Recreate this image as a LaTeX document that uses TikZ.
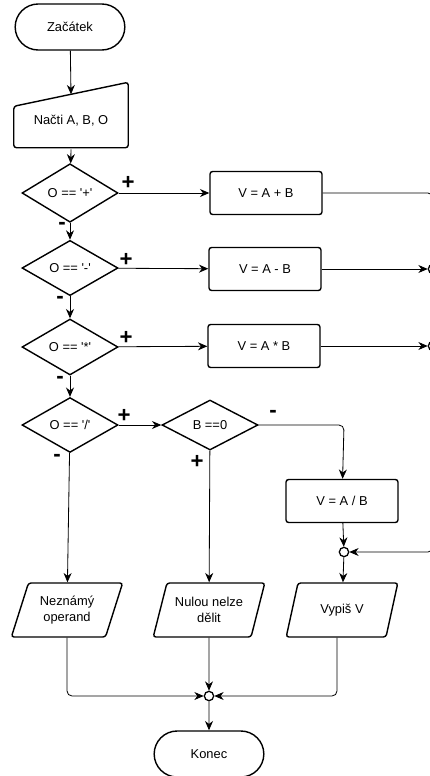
\documentclass[tikz,border=0pt]{standalone}
\usepackage{fontspec}
\setmainfont{Liberation Sans}
\usetikzlibrary{shapes.geometric,shapes.misc,arrows.meta}

\tikzset{
  base/.style={draw,line width=1.2pt,align=center,font=\fontsize{11}{13}\selectfont,inner sep=1pt},
  term/.style={base,rounded rectangle,minimum width=33.6mm,minimum height=13.8mm},
  process/.style={base,rectangle,rounded corners=0.8mm,minimum width=33.6mm,minimum height=12.9mm},
  decision/.style={base,diamond,minimum width=28.8mm,minimum height=15mm},
  io/.style={base,trapezium,trapezium left angle=67,trapezium right angle=113,trapezium stretches=true,rounded corners=0.8mm,minimum width=33.6mm,minimum height=16.2mm},
  junction/.style={draw,line width=1.1pt,circle,inner sep=0pt,minimum size=2.8mm},
  sign/.style={font=\fontsize{19}{19}\selectfont\bfseries,inner sep=0pt},
  flow/.style={-{Stealth[length=2.8mm,width=2.4mm,inset=0.9mm]},line width=0.7pt},
  line/.style={line width=0.7pt,rounded corners=1.5mm}
}

\begin{document}
\begin{tikzpicture}[x=0.3mm,y=-0.3mm]
\useasboundingbox (0,0) rectangle (429,776);

\node[term] (start) at (70,27) {Začátek};
\node[base,minimum width=33.9mm,minimum height=15.6mm,draw=none] (read) at (71,121) {Načti A, B, O};
\draw[line width=1.2pt,rounded corners=0.8mm] (read.south west) -- (read.south east)
  -- ([yshift=3.6mm]read.north east) -- ([yshift=-3.6mm]read.north west) -- cycle;

\node[decision] (plus) at (70,193) {O == \textquotesingle+\textquotesingle};
\node[decision] (minus) at (70,268) {O == \textquotesingle-\textquotesingle};
\node[decision] (times) at (70,347) {O == \textquotesingle*\textquotesingle};
\node[decision] (div) at (70,425) {O == \textquotesingle/\textquotesingle};
\node[decision] (zero) at (210,425) {B ==0};

\node[process] (sum) at (266,193) {V = A + B};
\node[process] (diff) at (265,269) {V = A - B};
\node[process] (prod) at (264,346) {V = A * B};
\node[process] (quot) at (342,501) {V = A / B};

\node[io] (unknown) at (67,610) {Neznámý\\operand};
\node[io] (nozero) at (209,610) {Nulou nelze\\dělit};
\node[io] (print) at (342,610) {Vypiš V};

\node[junction] (jright2) at (433,269) {};
\node[junction] (jright3) at (433,346) {};
\node[junction] (jprint) at (344,552) {};
\node[junction] (jend) at (209,696) {};

\node[term] (end) at (209,754) {Konec};

\coordinate (c1) at (433,193);
\coordinate (c2) at (433,552);
\coordinate (c3) at (344,425);
\coordinate (c4) at (67,696);
\coordinate (c5) at (337,696);

\draw[flow] (start) -- (read.north);
\draw[flow] ([yshift=-0.5mm]read.south) -- (plus);
\draw[flow] (plus) -- (sum);
\draw[flow] (plus) -- (minus);
\draw[flow] (minus) -- (diff);
\draw[flow] (minus) -- (times);
\draw[flow] (times) -- (prod);
\draw[flow] (times) -- (div);
\draw[flow] (div) -- (zero);
\draw[flow] (diff) -- (jright2);
\draw[flow] (prod) -- (jright3);
\draw[line] (sum) -- (c1) -- (jright2);
\draw[flow,line] (jright3) -- (c2) -- (jprint);
\draw[flow,line] (zero) -- (c3) -- (quot);
\draw[flow] (quot) -- (jprint);
\draw[flow] (jprint) -- (print);
\draw[flow] (div) -- (unknown);
\draw[flow] (zero) -- (nozero);
\draw[flow,line] (unknown.south -| c4) -- (c4) -- (jend);
\draw[flow] (nozero) -- (jend);
\draw[flow,line] (print.south -| c5) -- (c5) -- (jend);
\draw[flow] (jend) -- (end);

\node[sign] (p1) at (128,183) {+};
\node[sign] (p2) at (126,260) {+};
\node[sign] (p3) at (126,338) {+};
\node[sign] (p4) at (124,416) {+};
\node[sign] (p5) at (197,462) {+};
\node[sign] (m1) at (62,226) {-};
\node[sign] (m2) at (60,300) {-};
\node[sign] (m3) at (60,380) {-};
\node[sign] (m4) at (57,458) {-};
\node[sign] (m5) at (273,414) {-};

\end{tikzpicture}
\end{document}
